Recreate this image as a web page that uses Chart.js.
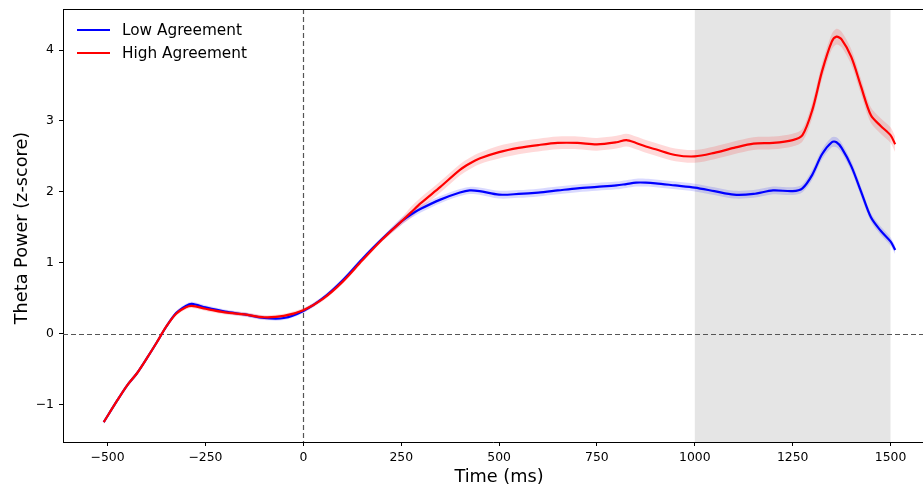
<!DOCTYPE html>
<html>
<head>
<meta charset="utf-8">
<script src="https://cdn.jsdelivr.net/npm/chart.js@4.4.1/dist/chart.umd.min.js"></script>
<style>
  body { margin: 0; background: #fff; }
  #wrap { width: 923px; height: 489px; position: relative; }
</style>
</head>
<body>
<div id="wrap"><canvas id="myChart"></canvas></div>
<script>
// time points (ms)
const times = [-510, -475, -450, -425, -400, -375, -350, -325, -300, -285, -250, -200, -150, -100, -50, 0, 50, 100, 150, 200,
  250, 275, 300, 350, 400, 425, 450, 500, 550, 600, 650, 700, 750, 800, 825, 850, 875, 900, 950, 1000,
  1050, 1100, 1150, 1200, 1250, 1275, 1300, 1325, 1350, 1362, 1375, 1400, 1425, 1450, 1475, 1500, 1512];

const lowAgreement = [-1.25, -0.94, -0.73, -0.56, -0.35, -0.13, 0.10, 0.29, 0.39, 0.42, 0.37, 0.31, 0.27, 0.22, 0.22, 0.32, 0.50, 0.75, 1.05, 1.33,
  1.58, 1.68, 1.76, 1.89, 1.99, 2.02, 2.01, 1.96, 1.97, 1.99, 2.02, 2.05, 2.07, 2.09, 2.11, 2.13, 2.13, 2.12, 2.09, 2.06,
  2.01, 1.96, 1.97, 2.02, 2.01, 2.05, 2.24, 2.53, 2.70, 2.70, 2.62, 2.36, 2.00, 1.64, 1.45, 1.30, 1.18];

const highAgreement = [-1.25, -0.94, -0.73, -0.56, -0.35, -0.13, 0.10, 0.28, 0.37, 0.39, 0.35, 0.30, 0.27, 0.23, 0.25, 0.33, 0.49, 0.73, 1.03, 1.32,
  1.58, 1.71, 1.84, 2.07, 2.31, 2.40, 2.47, 2.56, 2.62, 2.66, 2.69, 2.69, 2.67, 2.70, 2.73, 2.69, 2.64, 2.60, 2.52, 2.50,
  2.55, 2.62, 2.68, 2.69, 2.73, 2.80, 3.15, 3.70, 4.12, 4.19, 4.15, 3.90, 3.48, 3.08, 2.93, 2.80, 2.67];

// half-width of the shaded error bands
const lowErr = [0.03, 0.03, 0.03, 0.03, 0.03, 0.03, 0.03, 0.03, 0.03, 0.03, 0.03, 0.03, 0.03, 0.03, 0.03, 0.03, 0.03, 0.03, 0.03, 0.03,
  0.05, 0.05, 0.05, 0.05, 0.05, 0.05, 0.05, 0.055, 0.055, 0.055, 0.055, 0.055, 0.055, 0.055, 0.055, 0.055, 0.055, 0.055, 0.055, 0.055,
  0.055, 0.055, 0.055, 0.055, 0.055, 0.055, 0.07, 0.07, 0.07, 0.07, 0.07, 0.07, 0.07, 0.06, 0.06, 0.06, 0.06];

const highErr = [0.03, 0.03, 0.03, 0.03, 0.03, 0.03, 0.03, 0.03, 0.03, 0.03, 0.03, 0.03, 0.03, 0.03, 0.03, 0.03, 0.03, 0.03, 0.03, 0.03,
  0.05, 0.08, 0.08, 0.08, 0.08, 0.08, 0.08, 0.09, 0.09, 0.09, 0.09, 0.09, 0.09, 0.09, 0.09, 0.09, 0.09, 0.09, 0.09, 0.09,
  0.09, 0.09, 0.09, 0.09, 0.09, 0.09, 0.11, 0.11, 0.11, 0.11, 0.11, 0.11, 0.11, 0.11, 0.11, 0.11, 0.11];

const xTicks = [-500, -250, 0, 250, 500, 750, 1000, 1250, 1500];
const yTicks = [-1, 0, 1, 2, 3, 4];
const shadedSpan = [1000, 1500];

const FONT = "'DejaVu Sans', sans-serif";

function pts(vals, err, sign) {
  return times.map(function (t, i) {
    return { x: t, y: vals[i] + (err ? sign * err[i] : 0) };
  });
}

function minusSign(v) {
  return String(v).replace("-", "\u2212");
}

// gray window, dashed zero lines, top spine, legend, axis titles
const decor = {
  id: "decor",
  beforeDatasetsDraw: function (chart) {
    const c = chart.ctx, a = chart.chartArea;
    const xs = chart.scales.x, ys = chart.scales.y;
    c.save();
    c.fillStyle = "rgb(229,229,229)";
    const x0 = xs.getPixelForValue(shadedSpan[0]), x1 = xs.getPixelForValue(shadedSpan[1]);
    c.fillRect(x0, a.top, x1 - x0, a.bottom - a.top);
    c.strokeStyle = "#555";
    c.lineWidth = 1.2;
    c.setLineDash([5, 3]);
    const y0 = Math.round(ys.getPixelForValue(0)) + 0.5;
    c.beginPath(); c.moveTo(a.left, y0); c.lineTo(a.right, y0); c.stroke();
    const xz = Math.round(xs.getPixelForValue(0)) + 0.5;
    c.beginPath(); c.moveTo(xz, a.top); c.lineTo(xz, a.bottom); c.stroke();
    c.restore();
  },
  afterDraw: function (chart) {
    const c = chart.ctx, a = chart.chartArea;
    c.save();
    c.strokeStyle = "#000";
    c.lineWidth = 1;
    c.beginPath(); c.moveTo(a.left, a.top + 0.5); c.lineTo(a.right, a.top + 0.5); c.stroke();

    // legend
    const items = chart.data.datasets
      .filter(function (d) { return d.legendRank !== undefined; })
      .sort(function (p, q) { return p.legendRank - q.legendRank; });
    c.font = "15.3px " + FONT;
    c.textBaseline = "middle";
    c.textAlign = "left";
    items.forEach(function (d, i) {
      const y = 30 + i * 23;
      c.strokeStyle = d.borderColor;
      c.lineWidth = 2.2;
      c.beginPath(); c.moveTo(77, y); c.lineTo(110, y); c.stroke();
      c.fillStyle = "#000";
      c.fillText(d.label, 122, y + 1);
    });

    // axis titles
    c.fillStyle = "#000";
    c.font = "17.7px " + FONT;
    c.textAlign = "center";
    c.fillText("Time (ms)", 499, 477);
    c.translate(22, 228);
    c.rotate(-Math.PI / 2);
    c.fillText("Theta Power (z-score)", 0, 0);
    c.restore();
  }
};

const ctx = document.getElementById("myChart").getContext("2d");
const myChart = new Chart(ctx, {
  type: "line",
  data: {
    datasets: [
      {
        label: "High Agreement",
        legendRank: 1,
        data: pts(highAgreement),
        borderColor: "#ff0000",
        borderWidth: 2.2,
        pointRadius: 0,
        fill: false,
        order: 0,
      },
      {
        label: "Low Agreement",
        legendRank: 0,
        data: pts(lowAgreement),
        borderColor: "#0000ff",
        borderWidth: 2.2,
        pointRadius: 0,
        fill: false,
        order: 1,
      },
      {
        label: "high upper",
        data: pts(highAgreement, highErr, 1),
        borderWidth: 0,
        pointRadius: 0,
        backgroundColor: "rgba(255,0,0,0.15)",
        fill: "+1",
        order: 2,
      },
      {
        label: "high lower",
        data: pts(highAgreement, highErr, -1),
        borderWidth: 0,
        pointRadius: 0,
        fill: false,
        order: 3,
      },
      {
        label: "low upper",
        data: pts(lowAgreement, lowErr, 1),
        borderWidth: 0,
        pointRadius: 0,
        backgroundColor: "rgba(0,0,255,0.15)",
        fill: "+1",
        order: 4,
      },
      {
        label: "low lower",
        data: pts(lowAgreement, lowErr, -1),
        borderWidth: 0,
        pointRadius: 0,
        fill: false,
        order: 5,
      },
    ],
  },
  options: {
    animation: false,
    responsive: true,
    maintainAspectRatio: false,
    devicePixelRatio: 1,
    layout: { padding: { top: 9, left: 0, right: 0, bottom: 0 } },
    elements: { line: { tension: 0.3 } },
    plugins: { legend: { display: false }, tooltip: { enabled: false } },
    scales: {
      x: {
        type: "linear",
        min: -614,
        max: 1583,
        afterFit: function (s) { s.height = 47; s.paddingLeft = 0; s.paddingRight = 0; },
        afterBuildTicks: function (s) { s.ticks = xTicks.map(function (v) { return { value: v }; }); },
        grid: { drawOnChartArea: false, drawTicks: true, tickLength: 4, color: "#000" },
        border: { display: true, color: "#000", width: 1 },
        ticks: {
          color: "#000",
          padding: 4,
          maxRotation: 0,
          font: { family: FONT, size: 12.4 },
          callback: function (v) { return minusSign(v); },
        },
      },
      y: {
        min: -1.53,
        max: 4.58,
        afterFit: function (s) { s.width = 63; s.paddingTop = 0; s.paddingBottom = 0; },
        afterBuildTicks: function (s) { s.ticks = yTicks.map(function (v) { return { value: v }; }); },
        grid: { drawOnChartArea: false, drawTicks: true, tickLength: 4, color: "#000" },
        border: { display: true, color: "#000", width: 1 },
        ticks: {
          color: "#000",
          padding: 5,
          font: { family: FONT, size: 12.4 },
          callback: function (v) { return minusSign(v); },
        },
      },
    },
  },
  plugins: [decor],
});
</script>
</body>
</html>
